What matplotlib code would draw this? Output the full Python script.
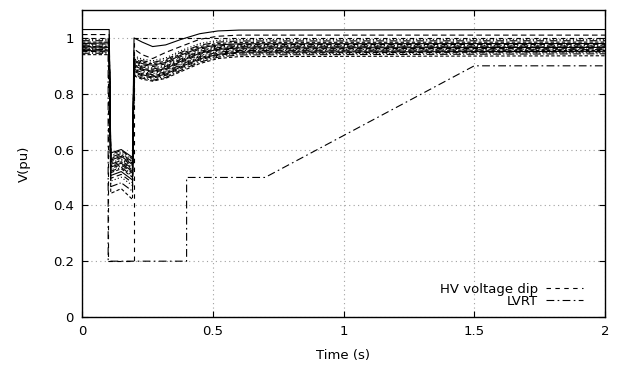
import matplotlib
matplotlib.use("Agg")
import matplotlib.pyplot as plt

plt.rcParams['font.family'] = ['DejaVu Sans']

# time grid (s)
t = [0, 0.104, 0.11, 0.15, 0.193, 0.199, 0.23, 0.27, 0.32, 0.38, 0.45, 0.52, 0.6, 2.0]

# bus voltages (pu) at the times above
c01 = [1.030, 1.030, 0.588, 0.600, 0.572, 1.000, 0.985, 0.969, 0.975, 0.995, 1.015, 1.025, 1.028, 1.030]
c02 = [1.012, 1.012, 0.582, 0.597, 0.567, 0.960, 0.940, 0.926, 0.948, 0.970, 0.995, 1.006, 1.010, 1.010]
c03 = [0.995, 0.995, 0.577, 0.592, 0.562, 0.936, 0.924, 0.918, 0.928, 0.955, 0.980, 0.991, 0.994, 0.995]
c04 = [0.990, 0.990, 0.572, 0.586, 0.556, 0.930, 0.918, 0.912, 0.922, 0.949, 0.974, 0.985, 0.989, 0.990]
c05 = [0.985, 0.985, 0.567, 0.581, 0.551, 0.925, 0.913, 0.907, 0.917, 0.944, 0.969, 0.980, 0.984, 0.985]
c06 = [0.980, 0.982, 0.562, 0.576, 0.546, 0.920, 0.908, 0.902, 0.912, 0.939, 0.964, 0.975, 0.979, 0.980]
c07 = [0.978, 0.978, 0.557, 0.571, 0.541, 0.916, 0.904, 0.897, 0.907, 0.934, 0.960, 0.971, 0.976, 0.977]
c08 = [0.975, 0.975, 0.552, 0.566, 0.536, 0.912, 0.900, 0.892, 0.902, 0.929, 0.956, 0.968, 0.973, 0.974]
c09 = [0.972, 0.970, 0.547, 0.561, 0.531, 0.908, 0.896, 0.888, 0.898, 0.925, 0.952, 0.965, 0.970, 0.971]
c10 = [0.970, 0.968, 0.542, 0.556, 0.526, 0.904, 0.892, 0.884, 0.894, 0.921, 0.948, 0.962, 0.967, 0.968]
c11 = [0.968, 0.966, 0.537, 0.551, 0.521, 0.900, 0.888, 0.880, 0.890, 0.917, 0.945, 0.959, 0.964, 0.966]
c12 = [0.965, 0.963, 0.532, 0.546, 0.516, 0.896, 0.884, 0.876, 0.886, 0.913, 0.941, 0.956, 0.961, 0.963]
c13 = [0.962, 0.960, 0.527, 0.541, 0.511, 0.892, 0.880, 0.872, 0.882, 0.909, 0.937, 0.952, 0.958, 0.960]
c14 = [0.960, 0.958, 0.522, 0.536, 0.506, 0.888, 0.876, 0.868, 0.878, 0.905, 0.933, 0.949, 0.955, 0.958]
c15 = [0.958, 0.956, 0.517, 0.531, 0.501, 0.884, 0.872, 0.864, 0.874, 0.901, 0.929, 0.945, 0.952, 0.955]
c16 = [0.955, 0.953, 0.507, 0.521, 0.491, 0.880, 0.868, 0.860, 0.870, 0.897, 0.925, 0.941, 0.949, 0.952]
c17 = [0.952, 0.950, 0.497, 0.511, 0.481, 0.876, 0.864, 0.856, 0.866, 0.893, 0.921, 0.938, 0.946, 0.950]
c18 = [0.950, 0.948, 0.487, 0.501, 0.471, 0.872, 0.860, 0.852, 0.862, 0.889, 0.917, 0.935, 0.943, 0.947]
c19 = [0.945, 0.945, 0.467, 0.481, 0.451, 0.868, 0.856, 0.848, 0.858, 0.885, 0.913, 0.931, 0.939, 0.943]
c20 = [0.940, 0.940, 0.443, 0.460, 0.421, 0.864, 0.852, 0.845, 0.855, 0.880, 0.908, 0.926, 0.933, 0.936]
curves = [c01, c02, c03, c04, c05, c06, c07, c08, c09, c10,
          c11, c12, c13, c14, c15, c16, c17, c18, c19, c20]

# reference profiles
hv_t = [0, 0.1, 0.1, 0.2, 0.2, 2.0]
hv_v = [1.0, 1.0, 0.2, 0.2, 1.0, 1.0]
lvrt_t = [0.1, 0.1, 0.4, 0.4, 0.7, 1.5, 2.0]
lvrt_v = [1.0, 0.2, 0.2, 0.5, 0.5, 0.9, 0.9]

xticks = [0, 0.5, 1, 1.5, 2]
xticklabels = ["0", "0.5", "1", "1.5", "2"]
yticks = [0, 0.2, 0.4, 0.6, 0.8, 1.0]
yticklabels = ["0", "0.2", "0.4", "0.6", "0.8", "1"]

fig = plt.figure(figsize=(6.18, 3.65), dpi=100)
ax = fig.add_axes([82/618, 1-317/365, (605-82)/618, (317-10)/365])

styles = ['-', (0, (5, 3)), (0, (1, 2)), (0, (7, 2, 1, 2)), (0, (3, 2))]
for i, c in enumerate(curves):
    ax.plot(t, c, color='black', lw=0.8, ls=styles[i % len(styles)])

ax.plot(hv_t, hv_v, color='black', lw=0.8, ls=(0, (4, 4)), label="HV voltage dip")
ax.plot(lvrt_t, lvrt_v, color='black', lw=0.8, ls=(0, (7, 3, 1.5, 3)), label="LVRT")

ax.set_xlim(0, 2)
ax.set_ylim(0, 1.1)
ax.set_xticks(xticks)
ax.set_xticklabels(xticklabels)
ax.set_yticks(yticks)
ax.set_yticklabels(yticklabels)
ax.grid(True, color='#a0a0a0', ls=(0, (1, 3)), lw=0.8)
ax.tick_params(direction='in', top=True, right=True, length=4.5, width=0.8,
               labelsize=9.5, pad=6)
for s in ax.spines.values():
    s.set_linewidth(1.0)

ax.set_xlabel("Time (s)", fontsize=9.5, labelpad=8)
ax.set_ylabel("V(pu)", fontsize=9.5, labelpad=16)

leg = ax.legend(loc='lower right', bbox_to_anchor=(0.975, 0.0), frameon=False,
                markerfirst=False, fontsize=9.5, handlelength=2.8,
                handletextpad=0.6, labelspacing=-0.1, borderpad=0.2)

fig.savefig("out.png", dpi=100)
